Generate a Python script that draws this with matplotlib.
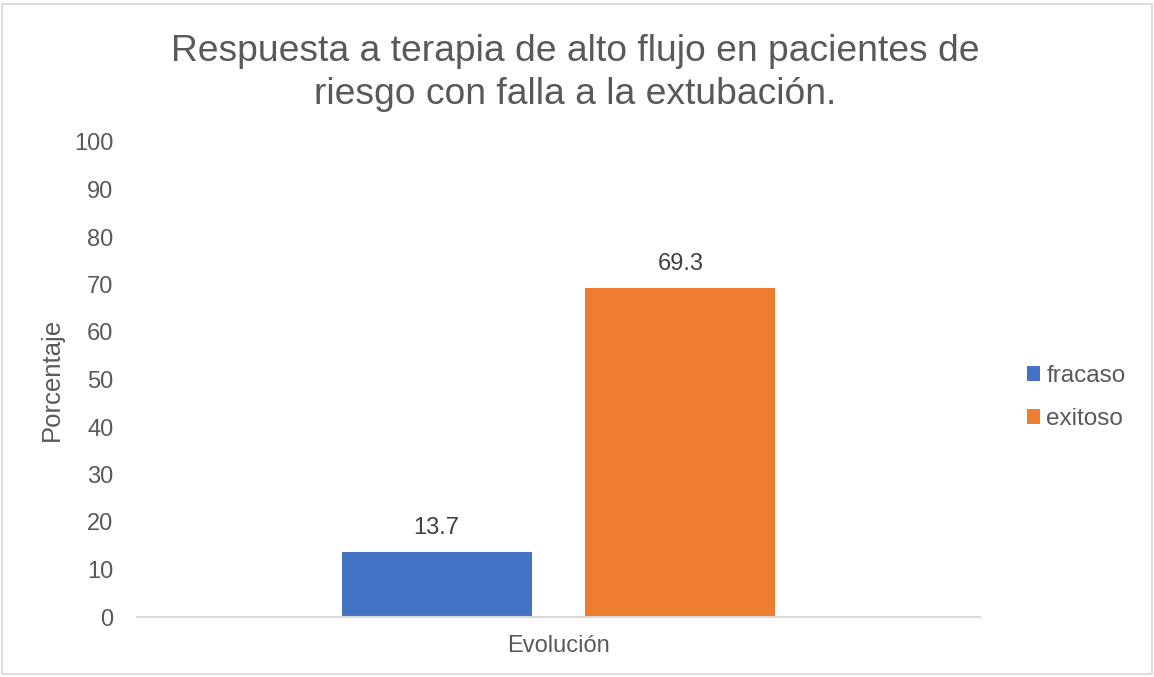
import matplotlib.pyplot as plt
import numpy as np

# datos
series = ["fracaso", "exitoso"]
valores = [13.7, 69.3]
colores = ["#4472C4", "#ED7D31"]
categoria = "Evolución"
yticks = [0, 10, 20, 30, 40, 50, 60, 70, 80, 90, 100]

plt.rcParams['font.family'] = ['Liberation Sans', 'DejaVu Sans']
gris = "#595959"

W, H = 1154, 677
fig = plt.figure(figsize=(W / 100, H / 100), dpi=100)

# marco exterior del grafico
fig.patches.append(plt.Rectangle((2 / W, 3 / H), 1 - 4 / W, 1 - 7 / H,
                                 transform=fig.transFigure, fill=False,
                                 edgecolor="#d9d9d9", linewidth=1.3))

ax = fig.add_axes([137 / W, 1 - 617 / H, (980 - 137) / W, (617 - 142) / H])

ancho = 0.225
desplaz = [-0.1445, 0.1445]
for nombre, v, c, d in zip(series, valores, colores, desplaz):
    barra = ax.bar(d, v, width=ancho, color=c, label=nombre)
    ax.bar_label(barra, labels=[f"{v:.1f}"], padding=9, fontsize=17, color="#404040")

ax.set_xlim(-0.5, 0.5)
ax.set_ylim(0, 100)
ax.set_yticks(yticks)
ax.set_yticklabels([str(t) for t in yticks], fontsize=17, color=gris)
ax.set_xticks([0])
ax.set_xticklabels([categoria], fontsize=17, color=gris)
ax.tick_params(axis="x", length=0, pad=13)
ax.tick_params(axis="y", length=0, pad=17)

for s in ["left", "right", "top"]:
    ax.spines[s].set_visible(False)
ax.spines["bottom"].set_color("#d9d9d9")
ax.spines["bottom"].set_linewidth(1.5)

ax.set_ylabel("Porcentaje", fontsize=18.5, color=gris, labelpad=7)

fig.text(0.4985, 1 - 104 / H, "Respuesta a terapia de alto flujo en pacientes de\nriesgo con falla a la extubación.",
         ha="center", va="baseline", fontsize=26.8, color=gris, linespacing=1.3)

ax.legend(loc="center left", bbox_to_anchor=(1.044, 0.462), frameon=False,
          fontsize=17.5, labelcolor=gris, handlelength=0.55, handleheight=0.55,
          handletextpad=0.25, labelspacing=0.85, borderaxespad=0)

fig.savefig("out.png", dpi=100)
